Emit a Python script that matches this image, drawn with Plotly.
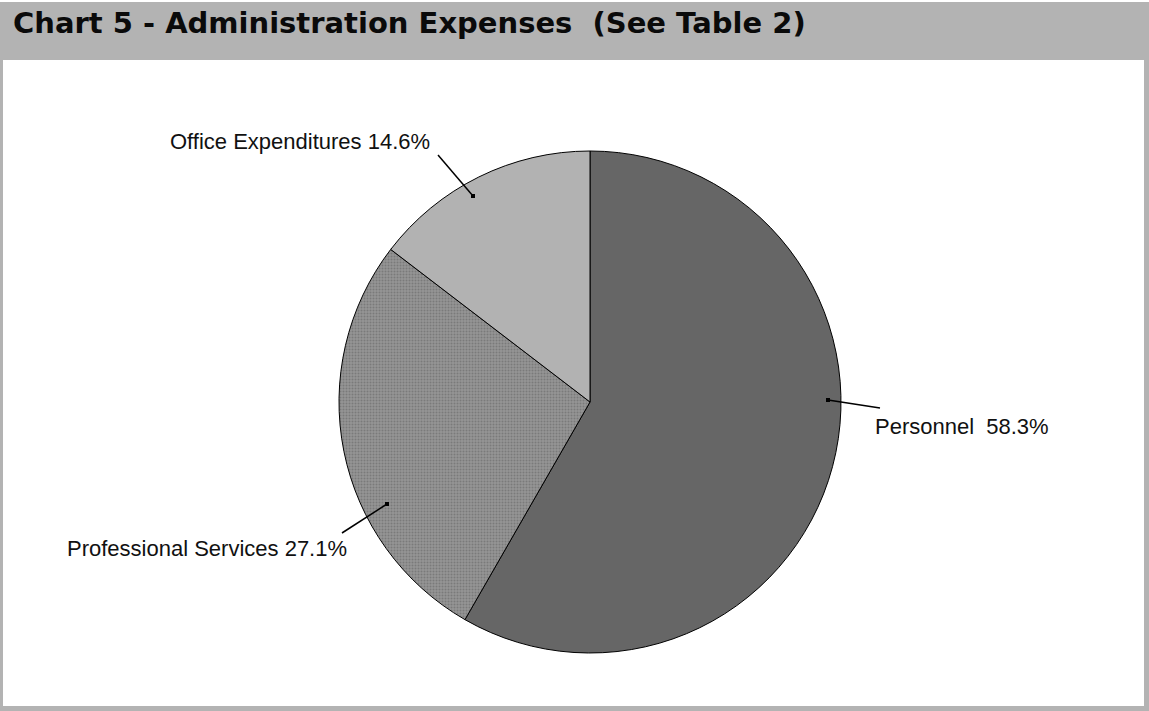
import plotly.graph_objects as go

W, H = 1149, 711

categories = ["Personnel", "Professional Services", "Office Expenditures"]
shares = [58.3, 27.1, 14.6]
slice_colors = ["#666666", "#8e8e8e", "#b2b2b2"]
label_texts = ["Personnel  58.3%", "Professional Services 27.1%", "Office Expenditures 14.6%"]
title_text = "Chart 5 - Administration Expenses  (See Table 2)"


def px(x):
    return x / W


def py(y):
    return 1 - y / H


cx, cy, r = 590, 402, 251

fig = go.Figure(
    go.Pie(
        labels=categories,
        values=shares,
        sort=False,
        direction="clockwise",
        rotation=0,
        textinfo="none",
        hoverinfo="label+percent",
        marker=dict(
            colors=slice_colors,
            line=dict(color="#000000", width=1),
            pattern=dict(
                shape=["", ".", ""],
                fgcolor=["#666666", "#7a7a7a", "#b2b2b2"],
                bgcolor=["#666666", "#959595", "#b2b2b2"],
                size=3,
                solidity=0.35,
            ),
        ),
        domain=dict(x=[px(cx - r), px(cx + r)], y=[py(cy + r), py(cy - r)]),
        showlegend=False,
    )
)

shapes = [
    dict(type="rect", xref="paper", yref="paper", x0=0, x1=1, y0=py(2), y1=1,
         fillcolor="#ffffff", line=dict(width=0), layer="below"),
    dict(type="rect", xref="paper", yref="paper", x0=px(3), x1=px(1144), y0=py(706), y1=py(60),
         fillcolor="#ffffff", line=dict(width=0), layer="below"),
]

# leader lines (inner point -> outer point)
leaders = [
    ((828, 400), (880, 408)),
    ((387, 504), (342, 533)),
    ((473, 196), (438, 155)),
]
for (x0, y0), (x1, y1) in leaders:
    shapes.append(dict(type="line", xref="paper", yref="paper", x0=px(x0), y0=py(y0),
                       x1=px(x1), y1=py(y1), line=dict(color="#000000", width=1.5)))
    shapes.append(dict(type="rect", xref="paper", yref="paper", x0=px(x0 - 2), y0=py(y0 + 2),
                       x1=px(x0 + 2), y1=py(y0 - 2), fillcolor="#000000", line=dict(width=0)))

label_font = dict(family="Liberation Sans, Arial, sans-serif", size=22, color="#111111")
label_pos = [(873, 426), (65, 548), (168, 142)]
annotations = []
for t, (x, y) in zip(label_texts, label_pos):
    annotations.append(dict(text=t, xref="paper", yref="paper", x=px(x), y=py(y),
                            xanchor="left", yanchor="middle", showarrow=False, font=label_font))

annotations.append(dict(text="<b>" + title_text + "</b>", xref="paper", yref="paper",
                        x=px(11), y=py(23), xanchor="left", yanchor="middle", showarrow=False,
                        font=dict(family="DejaVu Sans, Verdana, sans-serif", size=29, color="#0a0a0a")))

fig.update_layout(
    width=W, height=H,
    margin=dict(l=0, r=0, t=0, b=0),
    paper_bgcolor="#b3b3b3",
    plot_bgcolor="#ffffff",
    shapes=shapes,
    annotations=annotations,
)

fig.write_html("out.html")
